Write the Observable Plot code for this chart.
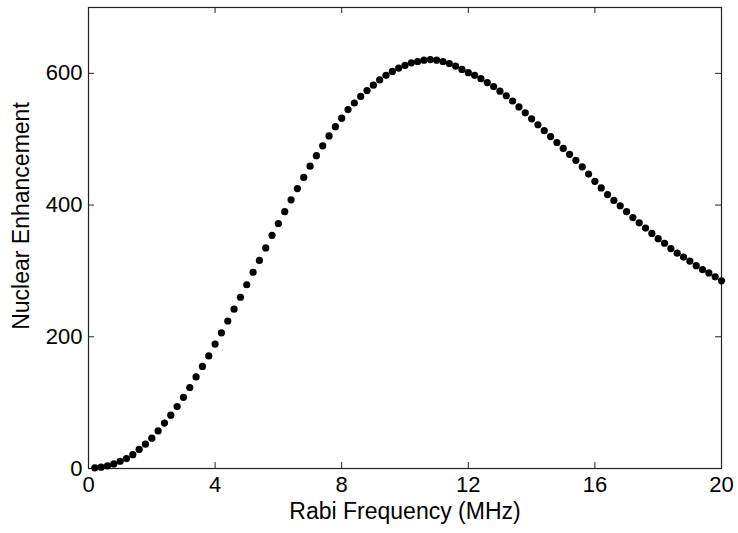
<!DOCTYPE html>
<html><head><meta charset="utf-8">
<script src="https://cdn.jsdelivr.net/npm/d3@7"></script>
<script src="https://cdn.jsdelivr.net/npm/@observablehq/plot@0.6"></script>
<style>html,body{margin:0;padding:0;background:#fff}</style>
</head><body><div id="chart"></div>
<script>
const rabiFrequency = [
  0.2,0.4,0.6,0.8,1.0,1.2,1.4,1.6,1.8,2.0,
  2.2,2.4,2.6,2.8,3.0,3.2,3.4,3.6,3.8,4.0,
  4.2,4.4,4.6,4.8,5.0,5.2,5.4,5.6,5.8,6.0,
  6.2,6.4,6.6,6.8,7.0,7.2,7.4,7.6,7.8,8.0,
  8.2,8.4,8.6,8.8,9.0,9.2,9.4,9.6,9.8,10.0,
  10.2,10.4,10.6,10.8,11.0,11.2,11.4,11.6,11.8,12.0,
  12.2,12.4,12.6,12.8,13.0,13.2,13.4,13.6,13.8,14.0,
  14.2,14.4,14.6,14.8,15.0,15.2,15.4,15.6,15.8,16.0,
  16.2,16.4,16.6,16.8,17.0,17.2,17.4,17.6,17.8,18.0,
  18.2,18.4,18.6,18.8,19.0,19.2,19.4,19.6,19.8,20.0
];
const enhancement = [
  1,2,4,7,11,15,21,29,37,46,
  57,69,81,94,108,123,139,155,171,189,
  206,224,242,260,279,298,316,335,354,372,
  390,408,425,442,459,475,490,505,519,532,
  545,555,565,574,582,590,597,603,608,612,
  616,618,620,621,620,618,615,611,606,601,
  597,592,586,580,573,566,558,549,540,531,
  522,513,504,495,486,477,468,458,447,436,
  426,416,407,399,390,381,373,365,357,349,
  342,334,327,321,315,308,302,297,291,285
];
const xTicks = [0, 4, 8, 12, 16, 20];
const yTicks = [0, 200, 400, 600];
const xLabel = "Rabi Frequency (MHz)";
const yLabel = "Nuclear Enhancement";

const data = rabiFrequency.map((x, i) => ({x, y: enhancement[i]}));

const W = 738, H = 533, mL = 88, mR = 17, mT = 7, mB = 65;
const pw = W - mL - mR, ph = H - mT - mB, tick = 6;
const font = "'Liberation Sans', Arial, Helvetica, sans-serif";

const chart = Plot.plot({
  width: W, height: H,
  marginLeft: mL, marginRight: mR, marginTop: mT, marginBottom: mB,
  style: {fontFamily: font, fontSize: "22px", background: "#fff", color: "#000"},
  x: {domain: [0, 20]},
  y: {domain: [0, 700]},
  marks: [
    Plot.frame({stroke: "#222", strokeWidth: 1.2}),
    Plot.tickX(xTicks, {x: d => d, insetTop: ph - tick, stroke: "#222"}),
    Plot.tickX(xTicks, {x: d => d, insetBottom: ph - tick, stroke: "#222"}),
    Plot.tickY(yTicks, {y: d => d, insetRight: pw - tick, stroke: "#222"}),
    Plot.tickY(yTicks, {y: d => d, insetLeft: pw - tick, stroke: "#222"}),
    Plot.axisX(xTicks, {tickSize: 0, tickPadding: 8, fontSize: 22, label: null, fill: "#000"}),
    Plot.axisY(yTicks, {tickSize: 0, tickPadding: 6, fontSize: 22, label: null, fill: "#000"}),
    Plot.text([xLabel], {frameAnchor: "bottom", dy: 50, lineAnchor: "bottom", textAnchor: "middle", text: d => d, fontSize: 23, fill: "#000"}),
    Plot.text([yLabel], {frameAnchor: "left", dx: -60, dy: -22, rotate: -90, lineAnchor: "bottom", textAnchor: "middle", text: d => d, fontSize: 23, fill: "#000"}),
    Plot.dot(data, {x: "x", y: "y", r: 3.6, fill: "#000", stroke: "none"})
  ]
});
document.getElementById("chart").appendChild(chart);
</script>
</body></html>
